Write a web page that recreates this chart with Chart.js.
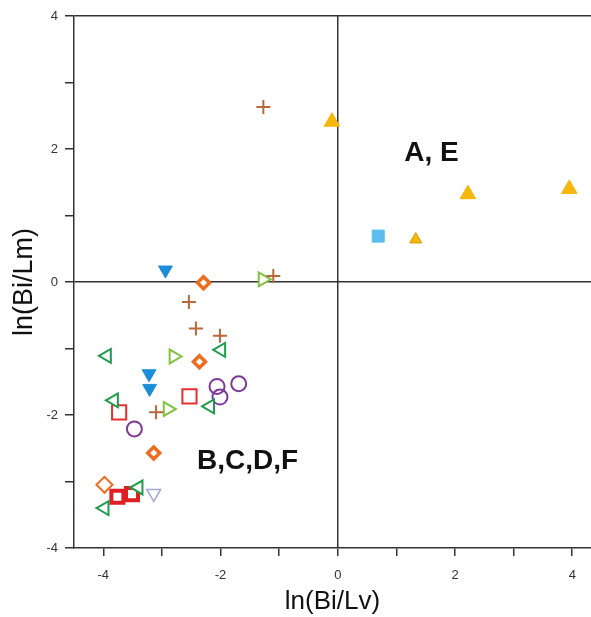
<!DOCTYPE html>
<html>
<head>
<meta charset="utf-8">
<script src="https://cdn.jsdelivr.net/npm/chart.js@4"></script>
<style>
  html, body { margin: 0; padding: 0; background: #fff; overflow: hidden; }
  #wrap { width: 591px; height: 617px; }
</style>
</head>
<body>
<div id="wrap"><canvas id="plot"></canvas></div>
<script>
// values, ln(Bi/Lv) vs ln(Bi/Lm)
const goldX = [-0.10, 2.22, 3.95];
const goldY = [2.41, 1.32, 1.40];
const goldSmallX = [1.33];
const goldSmallY = [0.64];
const skyX = [0.69];
const skyY = [0.69];
const brownX = [-1.27, -1.10, -2.54, -2.42, -2.01, -3.10];
const brownY = [2.63, 0.09, -0.30, -0.70, -0.81, -1.96];
const limeX = [-1.28, -2.80, -2.90];
const limeY = [0.04, -1.12, -1.91];
const greenX = [-3.94, -1.99, -3.82, -2.18, -3.40, -3.98];
const greenY = [-1.11, -1.02, -1.78, -1.87, -3.09, -3.40];
const blueX = [-2.94, -3.22, -3.21];
const blueY = [0.18, -1.38, -1.60];
const orangeX = [-2.29, -2.36, -3.14];
const orangeY = [-0.01, -1.20, -2.57];
const orangeOpenX = [-3.98];
const orangeOpenY = [-3.05];
const redOpenX = [-3.73, -2.53];
const redOpenY = [-1.96, -1.72];
const redBoldX = [-3.76, -3.51];
const redBoldY = [-3.23, -3.19];
const purpleX = [-3.47, -2.06, -2.01, -1.69];
const purpleY = [-2.21, -1.57, -1.73, -1.53];
const lavenderX = [-3.14];
const lavenderY = [-3.18];

// group labels and where they sit (data units)
const groupLabels = ['A, E', 'B,C,D,F'];
const groupLabelX = [1.60, -1.54];
const groupLabelY = [1.93, -2.69];

const axisColor = '#333';
const font = "'Liberation Sans', Arial, sans-serif";

function pts(xs, ys) {
    return xs.map(function (x, i) { return { x: x, y: ys[i] }; });
}

function series(xs, ys, style) {
    return Object.assign({
        data: pts(xs, ys),
        pointBorderWidth: 2,
        pointRotation: 0
    }, style);
}

// draws the two group names at data positions
const groupLabelPlugin = {
    id: 'groupLabels',
    afterDatasetsDraw: function (chart) {
        const ctx = chart.ctx;
        const xs = chart.scales.x, ys = chart.scales.y;
        ctx.save();
        ctx.font = 'bold 28px ' + font;
        ctx.fillStyle = '#111';
        ctx.textAlign = 'center';
        ctx.textBaseline = 'middle';
        groupLabels.forEach(function (t, i) {
            ctx.fillText(t, xs.getPixelForValue(groupLabelX[i]), ys.getPixelForValue(groupLabelY[i]));
        });
        ctx.restore();
    }
};

new Chart(document.getElementById('plot'), {
    type: 'scatter',
    data: {
        datasets: [
            series(goldX, goldY, { pointStyle: 'triangle', pointRadius: 9, pointBackgroundColor: '#F6B70B', pointBorderColor: '#F6B70B', pointBorderWidth: 1 }),
            series(goldSmallX, goldSmallY, { pointStyle: 'triangle', pointRadius: 7, pointBackgroundColor: '#F6B70B', pointBorderColor: '#D89A10', pointBorderWidth: 1 }),
            series(skyX, skyY, { pointStyle: 'rect', pointRadius: 8.5, pointBackgroundColor: '#5CBDEE', pointBorderColor: '#5CBDEE', pointBorderWidth: 1 }),
            series(brownX, brownY, { pointStyle: 'cross', pointRadius: 7, pointBorderColor: '#B8683A', pointBorderWidth: 2 }),
            series(limeX, limeY, { pointStyle: 'triangle', pointRotation: 90, pointRadius: 8, pointBackgroundColor: '#fff', pointBorderColor: '#82C341' }),
            series(greenX, greenY, { pointStyle: 'triangle', pointRotation: -90, pointRadius: 8, pointBackgroundColor: '#fff', pointBorderColor: '#1E9C4B' }),
            series(blueX, blueY, { pointStyle: 'triangle', pointRotation: 180, pointRadius: 8, pointBackgroundColor: '#1C8ED8', pointBorderColor: '#1C8ED8', pointBorderWidth: 1 }),
            series(orangeX, orangeY, { pointStyle: 'rectRot', pointRadius: 6, pointBackgroundColor: '#fff', pointBorderColor: '#EE6C1F', pointBorderWidth: 3.5 }),
            series(orangeOpenX, orangeOpenY, { pointStyle: 'rectRot', pointRadius: 8, pointBackgroundColor: '#fff', pointBorderColor: '#EE6C1F' }),
            series(redOpenX, redOpenY, { pointStyle: 'rect', pointRadius: 10, pointBackgroundColor: '#fff', pointBorderColor: '#E5302E' }),
            series(redBoldX, redBoldY, { pointStyle: 'rect', pointRadius: 8.5, pointBackgroundColor: '#fff', pointBorderColor: '#E01E24', pointBorderWidth: 4 }),
            series(purpleX, purpleY, { pointStyle: 'circle', pointRadius: 7.5, pointBackgroundColor: 'rgba(255,255,255,0)', pointBorderColor: '#7C3996' }),
            series(lavenderX, lavenderY, { pointStyle: 'triangle', pointRotation: 180, pointRadius: 8, pointBackgroundColor: '#fff', pointBorderColor: '#A5A5D8', pointBorderWidth: 1.5 })
        ]
    },
    options: {
        responsive: true,
        maintainAspectRatio: false,
        animation: false,
        // no extra room for point overflow: the frame runs to the picture edge
        layout: { autoPadding: false, padding: { top: 16, right: 0, left: 0, bottom: 0 } },
        plugins: { legend: { display: false }, tooltip: { enabled: false } },
        scales: {
            x: {
                type: 'linear',
                min: -4.5,
                max: 4.32,
                afterFit: function (scale) { scale.height = 69; },
                ticks: {
                    stepSize: 1,
                    includeBounds: false,
                    padding: 12,
                    color: axisColor,
                    font: { family: font, size: 13 },
                    maxRotation: 0,
                    callback: function (v) { return v % 2 === 0 ? String(v) : ''; }
                },
                grid: {
                    lineWidth: 1.5,
                    color: function (c) { return c.tick && c.tick.value === 0 ? axisColor : 'rgba(0,0,0,0)'; },
                    tickColor: axisColor,
                    tickLength: 8,
                    tickWidth: 1.5
                },
                border: { display: true, color: axisColor, width: 1.5 },
                title: {
                    display: true,
                    text: 'ln(Bi/Lv)',
                    color: '#111',
                    font: { family: font, size: 26 },
                    padding: { top: 0, bottom: 0 }
                }
            },
            y: {
                min: -4,
                max: 4,
                afterFit: function (scale) { scale.width = 74; },
                ticks: {
                    stepSize: 1,
                    padding: 7,
                    color: axisColor,
                    font: { family: font, size: 13 },
                    callback: function (v) { return v % 2 === 0 ? String(v) : ''; }
                },
                grid: {
                    lineWidth: 1.5,
                    color: function (c) {
                        if (!c.tick) return 'rgba(0,0,0,0)';
                        return (c.tick.value === 0 || c.tick.value === 4) ? axisColor : 'rgba(0,0,0,0)';
                    },
                    tickColor: axisColor,
                    tickLength: 9,
                    tickWidth: 1.5
                },
                border: { display: true, color: axisColor, width: 1.5 },
                title: {
                    display: true,
                    text: 'ln(Bi/Lm)',
                    color: '#111',
                    font: { family: font, size: 27 },
                    padding: { top: 8, bottom: 0 }
                }
            }
        }
    },
    plugins: [groupLabelPlugin]
});
</script>
</body>
</html>
